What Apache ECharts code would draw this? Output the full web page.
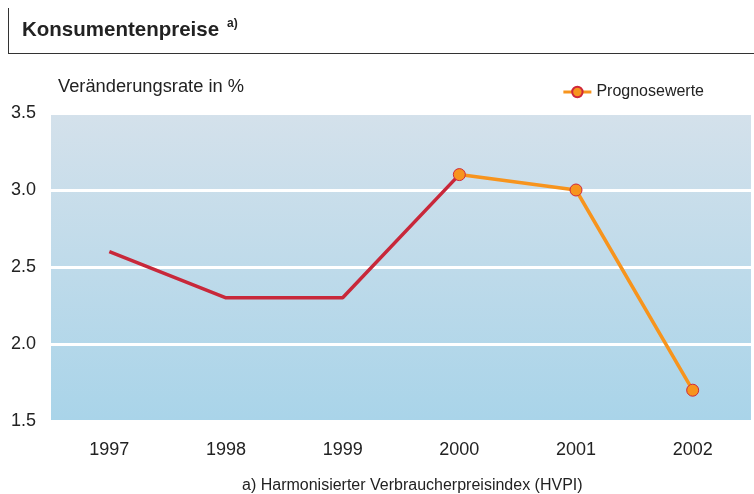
<!DOCTYPE html>
<html><head><meta charset="utf-8">
<script src="https://cdn.jsdelivr.net/npm/echarts@6/dist/echarts.min.js"></script>
<style>html,body{margin:0;padding:0;background:#fff}#c{width:754px;height:494px}</style>
</head><body><div id="c"></div>
<script>
var years = ['1997','1998','1999','2000','2001','2002'];
var actual = [2.6, 2.3, 2.3, 3.1, null, null];
var forecast = [null, null, null, 3.1, 3.0, 1.7];
var yTicks = [1.5, 2.0, 2.5, 3.0, 3.5];

var chart = echarts.init(document.getElementById('c'), null, {renderer:'canvas'});
var font = 'Liberation Sans, Arial, sans-serif';
chart.setOption({
  animation:false,
  textStyle:{fontFamily:font},
  graphic:[
    {type:'line', shape:{x1:8.5,y1:8,x2:8.5,y2:53.5}, style:{stroke:'#333',lineWidth:1}},
    {type:'line', shape:{x1:8,y1:53.5,x2:754,y2:53.5}, style:{stroke:'#333',lineWidth:1}},
    {type:'text', left:22, top:20, style:{text:'Konsumentenpreise', font:'bold 20.5px '+font, fill:'#222'}},
    {type:'text', left:227, top:18, style:{text:'a)', font:'bold 12px '+font, fill:'#222'}},
    {type:'text', left:58, top:78, style:{text:'Veränderungsrate in %', font:'18.3px '+font, fill:'#222'}},
    {type:'text', left:242, top:478, style:{text:'a) Harmonisierter Verbraucherpreisindex (HVPI)', font:'16px '+font, fill:'#222'}}
  ],
  legend:{
    data:['Prognosewerte'], right:45, top:79, itemWidth:28, itemHeight:13, itemGap:4,
    lineStyle:{width:3},
    textStyle:{fontSize:16, color:'#222', fontFamily:font}
  },
  grid:{
    left:51, right:3, top:113, bottom:73, show:true, borderWidth:0,
    backgroundColor:new echarts.graphic.LinearGradient(0,0,0,1,[
      {offset:0,color:'#d4e1eb'},{offset:1,color:'#a9d4e9'}])
  },
  xAxis:{
    type:'category', data:years, boundaryGap:true,
    axisLine:{show:false}, axisTick:{show:false},
    axisLabel:{fontSize:18, color:'#222', margin:20, fontFamily:font}
  },
  yAxis:{
    type:'value', min:1.5, max:3.5, interval:0.5,
    axisLine:{show:false}, axisTick:{show:false},
    axisLabel:{fontSize:18, color:'#222', margin:15, fontFamily:font,
      formatter:function(v){return v.toFixed(1);}},
    splitLine:{show:true, lineStyle:{color:'#ffffff', width:3}}
  },
  series:[
    {name:'Ist', type:'line', data:actual, showSymbol:false, symbol:'none',
      lineStyle:{color:'#c8283a', width:3.5}, itemStyle:{color:'#c8283a'}, z:2},
    {name:'Prognosewerte', type:'line', data:forecast, symbol:'circle', symbolSize:12,
      lineStyle:{color:'#f7941d', width:3.5},
      itemStyle:{color:'#f7941d', borderColor:'#d0283a', borderWidth:1}, z:3}
  ]
});
</script></body></html>
